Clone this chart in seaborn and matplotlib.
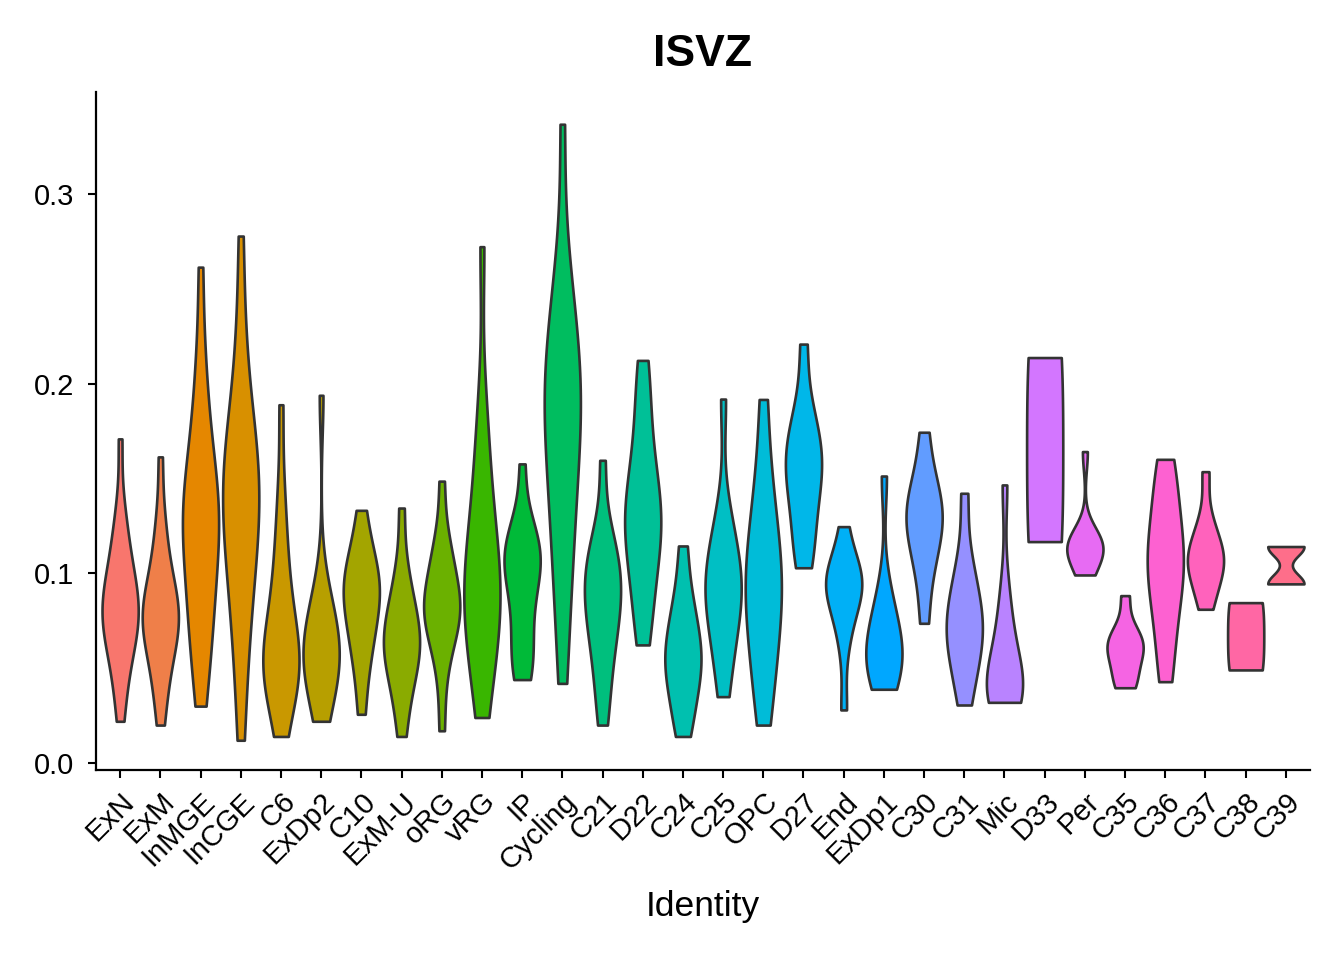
import numpy as np
import pandas as pd
import matplotlib
matplotlib.use("Agg")
import matplotlib.pyplot as plt
import seaborn as sns

sns.set_theme(style="ticks")
plt.rcParams["font.family"] = ["Liberation Sans", "DejaVu Sans"]

# cluster identities, in plotting order
identities = ["ExN", "ExM", "InMGE", "InCGE", "C6", "ExDp2", "C10", "ExM-U",
              "oRG", "vRG", "IP", "Cycling", "C21", "D22", "C24", "C25", "OPC",
              "D27", "End", "ExDp1", "C30", "C31", "Mic", "D33", "Per", "C35",
              "C36", "C37", "C38", "C39"]

# per-cell scores (estimated from the figure)
exn = [0.022, 0.035, 0.045, 0.052, 0.058, 0.063, 0.067, 0.070, 0.073, 0.076, 0.079,
       0.082, 0.085, 0.088, 0.091, 0.095, 0.099, 0.104, 0.110, 0.117, 0.125, 0.136, 0.171]
exm = [0.020, 0.033, 0.043, 0.050, 0.056, 0.062, 0.066, 0.069, 0.072, 0.075, 0.078,
       0.081, 0.084, 0.087, 0.091, 0.096, 0.102, 0.110, 0.120, 0.132, 0.1615]
inmge = [0.030, 0.045, 0.058, 0.068, 0.076, 0.084, 0.092, 0.100, 0.108, 0.115, 0.121,
         0.126, 0.130, 0.134, 0.139, 0.145, 0.152, 0.160, 0.170, 0.182, 0.198, 0.218, 0.2616]
incge = [0.012, 0.040, 0.060, 0.074, 0.086, 0.097, 0.106, 0.114, 0.121, 0.128, 0.134,
         0.140, 0.146, 0.152, 0.158, 0.164, 0.171, 0.180, 0.192, 0.210, 0.235, 0.278]
c6 = [0.014, 0.026, 0.034, 0.040, 0.044, 0.048, 0.051, 0.054, 0.057, 0.061, 0.066,
      0.072, 0.079, 0.088, 0.098, 0.110, 0.125, 0.145, 0.189]
exdp2 = [0.022, 0.030, 0.038, 0.044, 0.049, 0.053, 0.056, 0.059, 0.062, 0.066, 0.071,
         0.077, 0.084, 0.094, 0.194]
c10 = [0.0257, 0.045, 0.056, 0.064, 0.071, 0.077, 0.082, 0.087, 0.091, 0.095, 0.099,
       0.104, 0.110, 0.118, 0.1333]
exm_u = [0.014, 0.030, 0.040, 0.047, 0.053, 0.057, 0.061, 0.065, 0.069, 0.073, 0.078,
         0.085, 0.093, 0.105, 0.1345]
org = [0.017, 0.045, 0.060, 0.068, 0.073, 0.077, 0.080, 0.083, 0.086, 0.090, 0.096,
       0.104, 0.112, 0.118, 0.1487]
vrg = [0.024, 0.040, 0.052, 0.062, 0.070, 0.077, 0.083, 0.088, 0.093, 0.099, 0.106,
       0.114, 0.124, 0.136, 0.150, 0.168, 0.190, 0.2724]
ip = [0.044, 0.048, 0.055, 0.063, 0.072, 0.082, 0.090, 0.097, 0.102, 0.106, 0.109,
      0.112, 0.116, 0.121, 0.128, 0.1578]
cycling = [0.042, 0.070, 0.092, 0.108, 0.122, 0.135, 0.147, 0.158, 0.168, 0.177, 0.185,
           0.192, 0.199, 0.206, 0.214, 0.223, 0.234, 0.248, 0.268, 0.337]
c21 = [0.020, 0.035, 0.048, 0.058, 0.066, 0.073, 0.079, 0.084, 0.089, 0.094, 0.099,
       0.104, 0.109, 0.115, 0.124, 0.1597]
d22 = [0.0623, 0.075, 0.088, 0.099, 0.108, 0.116, 0.122, 0.127, 0.132, 0.138, 0.145,
       0.154, 0.165, 0.180, 0.197, 0.2124]
c24 = [0.014, 0.025, 0.035, 0.043, 0.049, 0.054, 0.059, 0.065, 0.072, 0.081, 0.092, 0.1145]
c25 = [0.035, 0.050, 0.062, 0.071, 0.079, 0.085, 0.090, 0.094, 0.099, 0.105, 0.112,
       0.121, 0.133, 0.192]
opc = [0.020, 0.038, 0.052, 0.064, 0.074, 0.083, 0.091, 0.098, 0.106, 0.115, 0.126,
       0.140, 0.158, 0.1918]
d27 = [0.103, 0.112, 0.124, 0.136, 0.145, 0.152, 0.158, 0.163, 0.169, 0.177, 0.188, 0.221]
end = [0.028, 0.062, 0.076, 0.084, 0.089, 0.093, 0.096, 0.099, 0.102, 0.107, 0.1247]
exdp1 = [0.0389, 0.043, 0.048, 0.053, 0.057, 0.061, 0.066, 0.072, 0.080, 0.092, 0.1514]
c30 = [0.0737, 0.096, 0.108, 0.117, 0.123, 0.128, 0.133, 0.138, 0.145, 0.154, 0.1745]
c31 = [0.0306, 0.045, 0.055, 0.062, 0.068, 0.073, 0.079, 0.086, 0.095, 0.108, 0.1423]
mic = [0.032, 0.033, 0.034, 0.036, 0.039, 0.043, 0.048, 0.055, 0.064, 0.076, 0.092, 0.1467]
d33 = [0.1168, 0.2139]
per = [0.0992, 0.100, 0.1095, 0.112, 0.1135, 0.1145, 0.1155, 0.117, 0.1195, 0.1643]
c35 = [0.0397, 0.042, 0.050, 0.056, 0.060, 0.063, 0.066, 0.070, 0.0883]
c36 = [0.0429, 0.062, 0.078, 0.090, 0.099, 0.106, 0.113, 0.122, 0.134, 0.148, 0.1602]
c37 = [0.0811, 0.090, 0.098, 0.103, 0.106, 0.109, 0.113, 0.119, 0.128, 0.1537]
c38 = [0.0491, 0.0846]
c39 = [0.0945, 0.0945, 0.0945, 0.0945, 0.0945, 0.0945,
       0.1142, 0.1142, 0.1142, 0.1142, 0.1142, 0.1142]

groups = [exn, exm, inmge, incge, c6, exdp2, c10, exm_u, org, vrg, ip, cycling, c21,
          d22, c24, c25, opc, d27, end, exdp1, c30, c31, mic, d33, per, c35, c36,
          c37, c38, c39]

df = pd.DataFrame({
    "ident": np.repeat(identities, [len(g) for g in groups]),
    "score": np.concatenate(groups),
})


def hue_pal(n, c=100.0, l=65.0):
    """ggplot2-style default discrete palette (HCL, D65 white)."""
    hues = np.linspace(15, 375, n + 1)[:-1]
    h = np.deg2rad(hues)
    U, V = c * np.cos(h), c * np.sin(h)
    Y = 100.0 * ((l + 16) / 116) ** 3
    u = U / (13 * l) + 0.1978398
    v = V / (13 * l) + 0.4683363
    X = 9.0 * Y * u / (4 * v)
    Z = -X / 3 - 5 * Y + 3 * Y / v
    rgb = np.stack([
        3.240479 * X - 1.537150 * Y - 0.498535 * Z,
        -0.969256 * X + 1.875992 * Y + 0.041556 * Z,
        0.055648 * X - 0.204043 * Y + 1.057311 * Z,
    ], axis=1) / 100.0
    rgb = np.where(rgb > 0.00304, 1.055 * np.clip(rgb, 0, None) ** (1 / 2.4) - 0.055, 12.92 * rgb)
    return [tuple(x) for x in np.clip(rgb, 0, 1)]


palette = dict(zip(identities, hue_pal(len(identities))))

fig = plt.figure(figsize=(13.44, 9.6), dpi=100)
ax = fig.add_axes([96 / 1344, 190 / 960, (1310 - 96) / 1344, (868 - 190) / 960])

sns.violinplot(data=df, x="ident", y="score", hue="ident", order=identities,
               hue_order=identities, palette=palette, legend=False,
               density_norm="width", cut=0, inner=None, width=0.9,
               bw_adjust=0.85, linewidth=1.9, linecolor="#333333",
               saturation=1, ax=ax)

ax.set_xlim(-0.6, len(identities) - 0.4)
ax.set_ylim(-0.0037, 0.354)
ax.set_yticks([0.0, 0.1, 0.2, 0.3])
ax.set_yticklabels(["0.0", "0.1", "0.2", "0.3"])
ax.tick_params(axis="both", length=5.5, width=1.5, color="black",
               labelsize=21, labelcolor="black", pad=7)
ax.tick_params(axis="y", pad=10)
plt.setp(ax.get_xticklabels(), rotation=45, ha="right", va="top",
         rotation_mode="anchor")

ax.set_ylabel("")
ax.set_xlabel("Identity", fontsize=25.5, color="black")
ax.xaxis.set_label_coords(0.5, -0.202)
ax.xaxis.label.set_va("center")
ax.set_title("ISVZ", fontsize=32, fontweight="bold", color="black", pad=19)

sns.despine(ax=ax)
for side in ["left", "bottom"]:
    ax.spines[side].set_linewidth(1.6)
    ax.spines[side].set_color("black")

fig.savefig("out.png", dpi=100)
